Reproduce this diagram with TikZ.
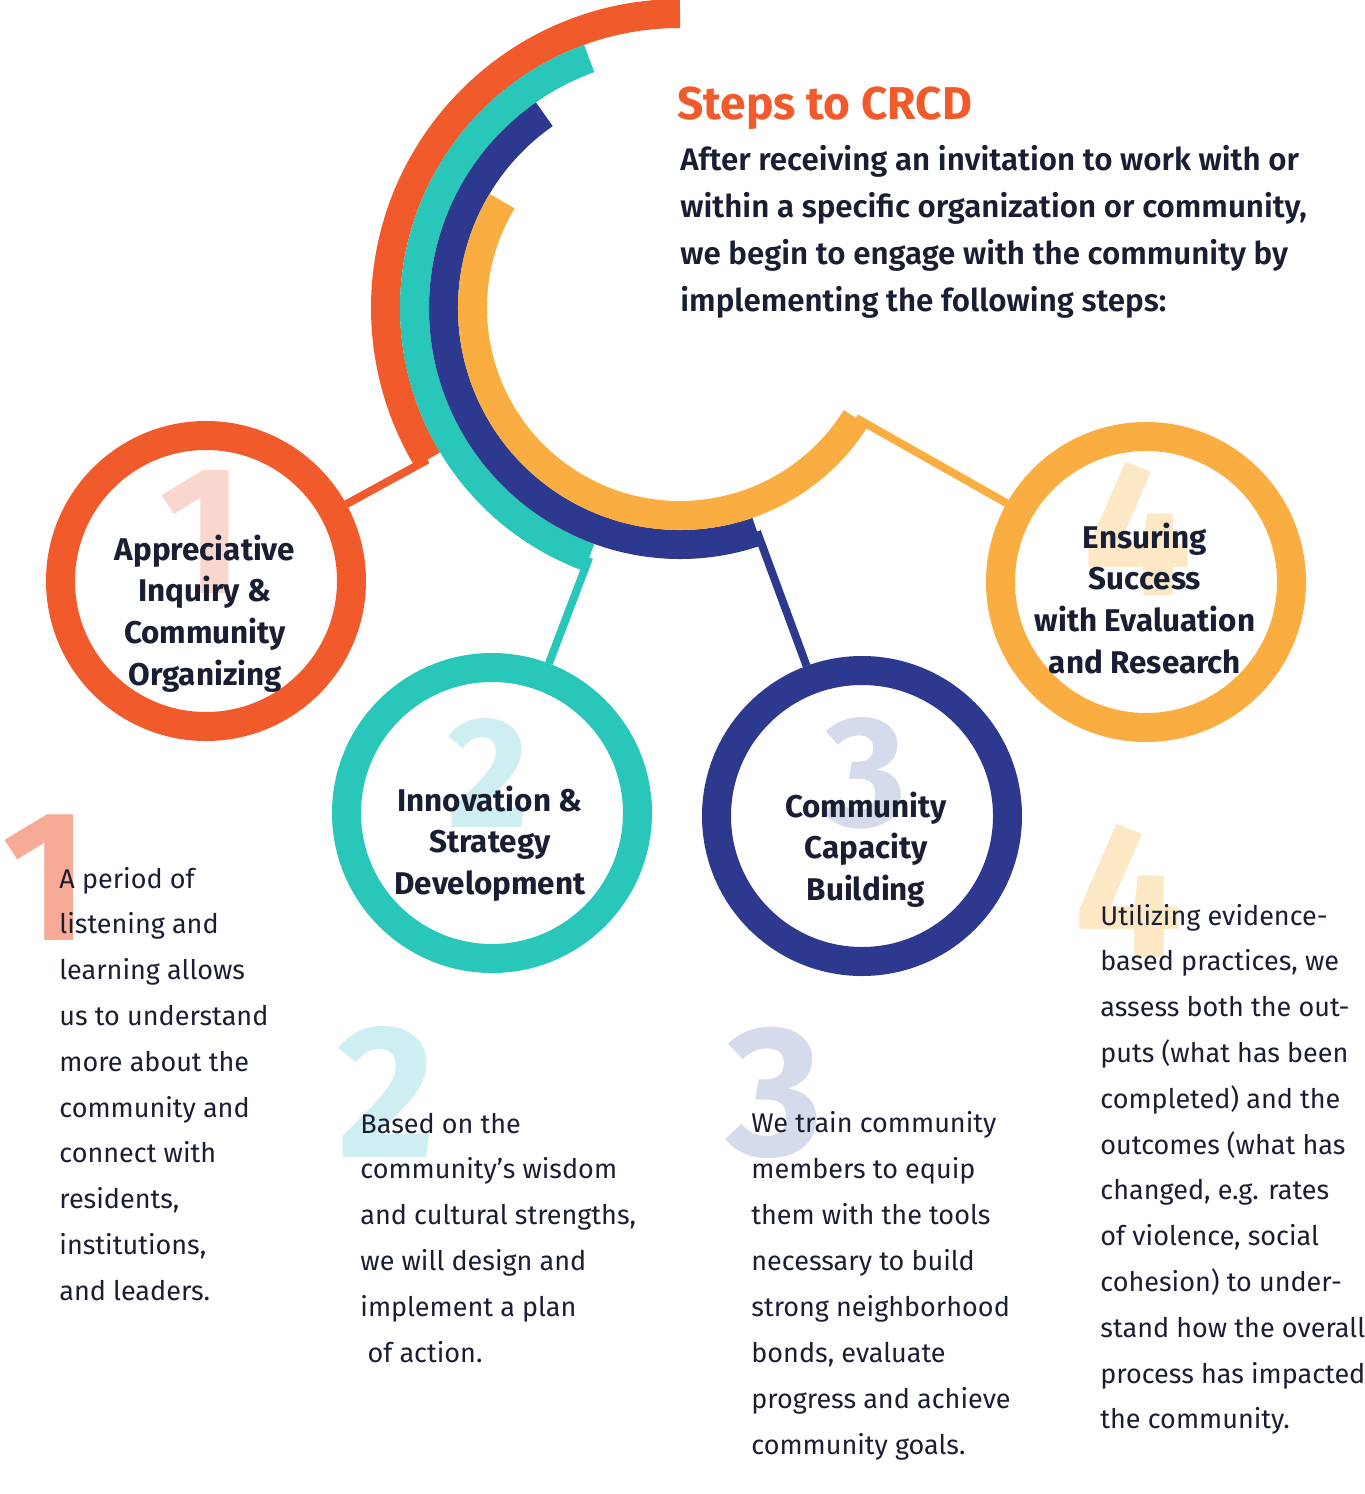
\documentclass[tikz,border=0pt]{standalone}
\usepackage{fontspec}
\setmainfont{Fira Sans}
\newfontfamily\semifont{Fira Sans SemiBold}
\definecolor{crcdorange}{HTML}{F15A2B}
\definecolor{crcdteal}{HTML}{28C7BA}
\definecolor{crcdnavy}{HTML}{2D388F}
\definecolor{crcdgold}{HTML}{FAAE42}
\definecolor{crcdink}{HTML}{1A1E33}
\definecolor{fadeone}{HTML}{F9D7CE}
\definecolor{fadeonedark}{HTML}{F7AB97}
\definecolor{fadetwo}{HTML}{CFEEF1}
\definecolor{fadethree}{HTML}{D5DBEA}
\definecolor{fadefour}{HTML}{FDE8C5}
\begin{document}
\begin{tikzpicture}[x=0.5pt, y=0.5pt,
    band/.style={line width=14.5pt},
    link/.style={line width=4pt},
    ring/.style={circle, draw=#1, line width=14.5pt, minimum size=145.5pt, inner sep=0pt},
    bignum/.style={font=\fontsize{#1}{#1}\selectfont\bfseries, anchor=base, inner sep=0pt},
    steplabel/.style={font=\fontsize{15.7}{19}\selectfont\bfseries, text=crcdink, anchor=base, inner sep=0pt},
    introline/.style={font=\fontsize{15.65}{19}\selectfont\semifont, text=crcdink, anchor=base west, inner sep=0pt},
    bodyline/.style={font=\fontsize{13.5}{16}\selectfont, text=crcdink, anchor=base west, inner sep=0pt}]
        \useasboundingbox (0,0) rectangle (1365,-1494);
        % Nested arcs round the hub
        \coordinate (hub) at (680,-308);
        \draw[band, crcdorange] (hub) ++(90:294.5) arc[start angle=90, end angle=211, radius=294.5] coordinate (e1);
        \draw[band, crcdteal] (hub) ++(110:265.5) arc[start angle=110, end angle=250, radius=265.5] coordinate (e2);
        \draw[band, crcdnavy] (hub) ++(125:236.5) arc[start angle=125, end angle=289, radius=236.5] coordinate (e3);
        \draw[band, crcdgold] (hub) ++(149:207.5) arc[start angle=149, end angle=328, radius=207.5] coordinate (e4);
        % Step circles
        \node[ring=crcdorange] (c1) at (206,-581) {};
        \node[ring=crcdteal] (c2) at (492,-813) {};
        \node[ring=crcdnavy] (c3) at (862,-816) {};
        \node[ring=crcdgold] (c4) at (1146,-582) {};
        % Links from arcs to circles
        \draw[link, crcdorange] (e1) -- (c1);
        \draw[link, crcdteal] (e2) -- (c2);
        \draw[link, crcdnavy] (e3) -- (c3);
        \draw[link, crcdgold] (e4) -- (c4);
        % Faded step numbers
        \node[bignum=91, text=fadeone] (n1) at (202,-593) {1};
        \node[bignum=79, text=fadetwo] (n2) at (488,-827) {2};
        \node[bignum=79, text=fadethree] (n3) at (866,-826) {3};
        \node[bignum=96, text=fadefour] (n4) at (1138,-595) {4};
        \node[bignum=93, text=fadeonedark] (m1) at (46,-940) {1};
        \node[bignum=95, text=fadetwo] (m2) at (387,-1157) {2};
        \node[bignum=93, text=fadethree] (m3) at (775,-1155) {3};
        \node[bignum=96, text=fadefour] (m4) at (1129,-957) {4};
        % Title and intro
        \node[font=\fontsize{23}{27}\selectfont\bfseries, text=crcdorange, anchor=base west, inner sep=0pt] (title) at (677,-119) {Steps to CRCD};
        \foreach \t [count=\k from 0] in {After receiving an invitation to work with or, {within a specific organization or community,}, we begin to engage with the community by, implementing the following steps:} {
            \node[introline] (intro-\k) at (680,-170-47.2*\k) {\t};
        }
        % Circle labels
        \foreach \t [count=\k from 0] in {Appreciative, Inquiry \&, Community, Organizing} {
            \node[steplabel] (l1-\k) at (205,-560-41.7*\k) {\t};
        }
        \foreach \t [count=\k from 0] in {Innovation \&, Strategy, Development} {
            \node[steplabel] (l2-\k) at (490,-811-41.5*\k) {\t};
        }
        \foreach \t [count=\k from 0] in {Community, Capacity, Building} {
            \node[steplabel] (l3-\k) at (866,-817-41.5*\k) {\t};
        }
        \foreach \t [count=\k from 0] in {Ensuring, Success, with Evaluation, and Research} {
            \node[steplabel] (l4-\k) at (1145,-548-41.7*\k) {\t};
        }
        % Step descriptions
        \foreach \t [count=\k from 0] in {A period of, listening and, learning allows, us to understand, more about the, community and, connect with, {residents,}, {institutions,}, and leaders.} {
            \node[bodyline] (p1-\k) at (59,-888-45.8*\k) {\t};
        }
        \foreach \t [count=\k from 0] in {Based on the, community’s wisdom, {and cultural strengths,}, we will design and, implement a plan, \ of action.} {
            \node[bodyline] (p2-\k) at (360,-1133-45.8*\k) {\t};
        }
        \foreach \t [count=\k from 0] in {We train community, members to equip, them with the tools, necessary to build, strong neighborhood, {bonds, evaluate}, progress and achieve, community goals.} {
            \node[bodyline] (p3-\k) at (751,-1132-46*\k) {\t};
        }
        \foreach \t [count=\k from 0] in {Utilizing evidence-, {based practices, we}, assess both the out-, puts (what has been, completed) and the, outcomes (what has, {changed, e.g. rates}, {of violence, social}, cohesion) to under-, stand how the overall, process has impacted, the community.} {
            \node[bodyline] (p4-\k) at (1100,-925-45.8*\k) {\t};
        }
    \end{tikzpicture}
\end{document}
